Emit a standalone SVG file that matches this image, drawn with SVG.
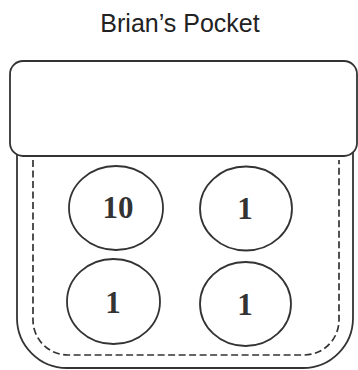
<svg xmlns="http://www.w3.org/2000/svg" width="358" height="370" viewBox="0 0 358 370">
<style>
.ln{fill:none;stroke:#333;stroke-width:1.8}
.dash{fill:none;stroke:#333;stroke-width:1.7;stroke-dasharray:7 3.5}
.coin{fill:#fff;stroke:#333;stroke-width:1.8}
.num{font-family:"Liberation Serif",serif;font-weight:bold;font-size:31px;fill:#333;text-anchor:middle}
.title{font-family:"Liberation Sans",Arial,sans-serif;font-size:25px;fill:#222;text-anchor:middle}
</style>
<rect width="358" height="370" fill="#fff"/>
<text class="title" x="180" y="32">Brian’s Pocket</text>
<g id="pocket">
<path class="ln" d="M17,150 V318 A50,50 0 0 0 67,368 H303 A50,50 0 0 0 353,318 V150"/>
<path class="dash" d="M33,160 V320 A35,35 0 0 0 68,355 H304 A35,35 0 0 0 339,320 V160"/>
</g>
<g id="flap">
<rect x="10" y="61" width="347" height="95" rx="13" fill="#fff" stroke="#333" stroke-width="1.8"/>
</g>
<g id="coin1">
<ellipse class="coin" cx="116" cy="208" rx="47" ry="42"/>
<text class="num" x="118" y="218">10</text>
</g>
<g id="coin2">
<ellipse class="coin" cx="246" cy="208.5" rx="46" ry="42"/>
<text class="num" x="245" y="219">1</text>
</g>
<g id="coin3">
<ellipse class="coin" cx="113.5" cy="301.5" rx="46.5" ry="42.5"/>
<text class="num" x="113" y="313">1</text>
</g>
<g id="coin4">
<ellipse class="coin" cx="245.5" cy="304" rx="45.5" ry="42"/>
<text class="num" x="245" y="315">1</text>
</g>
</svg>
